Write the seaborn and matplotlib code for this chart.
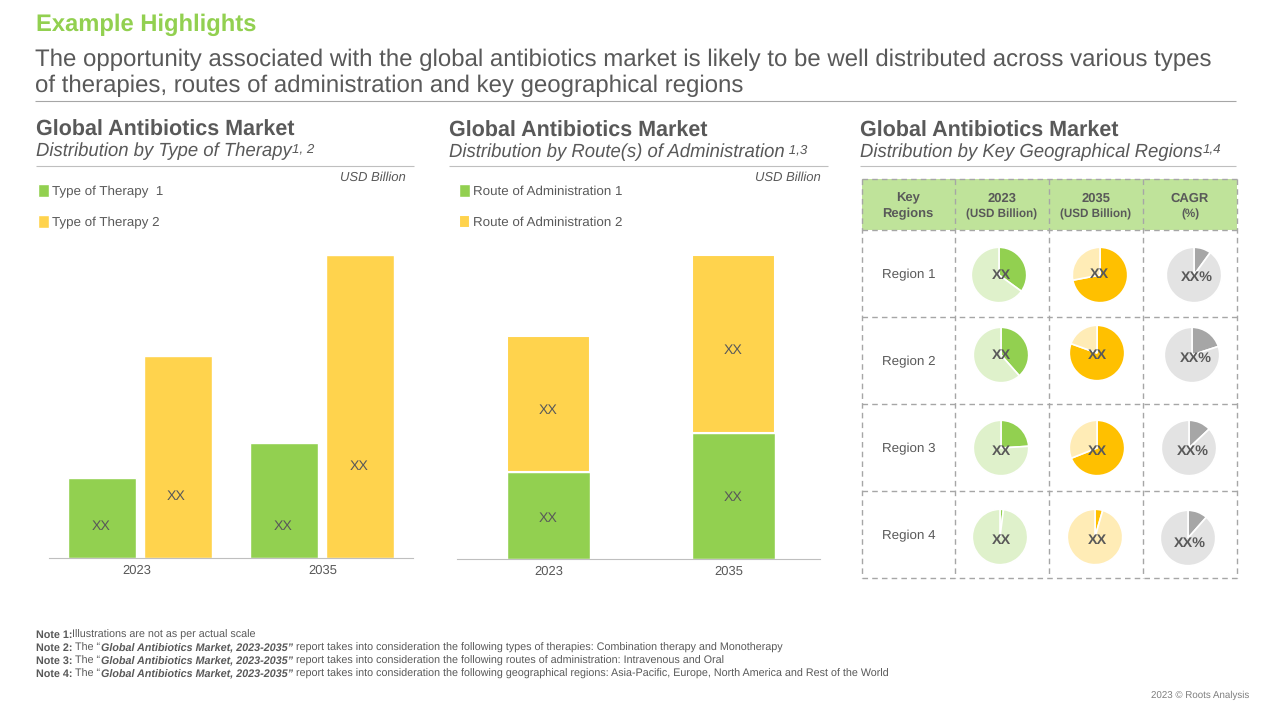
import pandas as pd
import matplotlib
matplotlib.use("Agg")
import matplotlib.pyplot as plt
from matplotlib.patches import Rectangle
import seaborn as sns

W, H = 1280, 720
GREEN = "#92D050"
YELLOW = "#FFD34D"
GREY = "#595959"
RULE = "#BFBFBF"

# Values (no scale given, so arbitrary units)
years = ["2023", "2035"]
therapy_names = ["Type of Therapy  1", "Type of Therapy 2"]
therapy_1 = [80, 115]
therapy_2 = [201, 302]
route_names = ["Route of Administration 1", "Route of Administration 2"]
route_1 = [87, 126]
route_2 = [135, 177]

regions = ["Region 1", "Region 2", "Region 3", "Region 4"]
share_2023 = [35, 38.5, 24, 2]
share_2035 = [72, 80.5, 69, 4.5]
share_cagr = [10, 20, 13, 11.5]

sns.set_theme(style="white")
plt.rcParams["font.family"] = ["Liberation Sans", "DejaVu Sans"]
plt.rcParams["text.hinting"] = "no_hinting"

fig = plt.figure(figsize=(W / 100, H / 100), dpi=100, facecolor="white")


def px_axes(x0, y0, x1, y1):
    return fig.add_axes([x0 / W, 1 - y1 / H, (x1 - x0) / W, (y1 - y0) / H])


def style_bars(ax, xlim, ymax, tick_pos):
    ax.set_xlim(*xlim)
    ax.set_ylim(0, ymax)
    ax.set_xlabel("")
    ax.set_ylabel("")
    ax.set_yticks([])
    ax.set_xticks(tick_pos, years)
    sns.despine(ax=ax, left=True)
    ax.spines["bottom"].set_color(RULE)
    ax.spines["bottom"].set_linewidth(0.8)
    ax.tick_params(axis="x", length=0, pad=5, labelsize=9.4, labelcolor=GREY)
    ax.patch.set_alpha(0)


def place_legend(ax, handles, labels, x, y):
    ax.legend(handles, labels, loc="upper left", bbox_to_anchor=(x / W, 1 - y / H),
              bbox_transform=fig.transFigure, frameon=False, fontsize=9.6, labelcolor=GREY,
              handlelength=0.85, handleheight=1.1, handletextpad=0.2, labelspacing=1.32,
              borderpad=0, borderaxespad=0)


# Left chart, grouped bars
df_type = pd.DataFrame({
    "year": years * 2,
    "kind": [therapy_names[0]] * 2 + [therapy_names[1]] * 2,
    "value": therapy_1 + therapy_2,
})
ax1 = px_axes(49, 256, 413, 558)
sns.barplot(data=df_type, x="year", y="value", hue="kind", palette=[GREEN, YELLOW],
            width=0.83, gap=0.095, saturation=1, ax=ax1)
style_bars(ax1, (-0.5, 1.5), 301, [-0.02, 1.005])
h1, l1 = ax1.get_legend_handles_labels()
place_legend(ax1, h1, l1, 38, 184)

# Middle chart, stacked bars
df_route = pd.DataFrame({"year": years, "r1": route_1, "r2": route_2})
ax2 = px_axes(457, 256, 820, 559)
sns.barplot(data=df_route, x="year", y="r1", color=GREEN, width=0.445, saturation=1,
            label=route_names[0], ax=ax2)
sns.barplot(data=df_route, x="year", y="r2", bottom=route_1, color=YELLOW, width=0.445,
            saturation=1, label=route_names[1], edgecolor="white", linewidth=1.5, ax=ax2)
style_bars(ax2, (-0.495, 1.468), 302, [0, 0.973])
h2, l2 = ax2.get_legend_handles_labels()
place_legend(ax2, h2, l2, 459, 184)

# Overlay in pixel coordinates for all the slide text and rules
ov = fig.add_axes([0, 0, 1, 1])
ov.set_xlim(0, W)
ov.set_ylim(H, 0)
ov.axis("off")
ov.set_zorder(10)


def txt(x, y, s, size, color=GREY, ha="center", va="center", **kw):
    return ov.text(x, y + 1.5, s, fontsize=size, color=color, ha=ha, va=va, **kw)


def chain(x, y, parts, size, color=GREY):
    # consecutive runs of text on one baseline, each with its own weight/style
    r = fig.canvas.get_renderer()
    for s, kw in parts:
        t = ov.text(x, y, s, fontsize=size, color=color, ha="left", va="baseline", **kw)
        x = ov.transData.inverted().transform(t.get_window_extent(r).corners()[2])[0]


def rule(x0, x1, y, color=RULE, lw=0.8, ls="-"):
    ov.plot([x0, x1], [y, y], color=color, lw=lw, ls=ls, solid_capstyle="butt")


txt(36, 23, "Example Highlights", 17.15, color=GREEN, ha="left", fontweight="bold")
txt(35, 58, "The opportunity associated with the global antibiotics market is likely to be well "
    "distributed across various types", 17.25, ha="left")
txt(35, 84, "of therapies, routes of administration and key geographical regions", 17.25, ha="left")
rule(35, 1236, 101, color="#A6A6A6")

heads = [(36, 129, 150, "Distribution by Type of Therapy", "1, 2", 36, 414),
         (449, 130, 151, "Distribution by Route(s) of Administration", " 1,3", 449, 828),
         (860, 130, 151, "Distribution by Key Geographical Regions", "1,4", 860, 1236)]
for x, y1, y2, sub, sup, r0, r1 in heads:
    txt(x, y1, "Global Antibiotics Market", 15.5, ha="left", fontweight="bold")
    r = fig.canvas.get_renderer()
    t = txt(x, y2, sub, 13.35, ha="left", style="italic")
    end = ov.transData.inverted().transform(t.get_window_extent(r).corners()[2])[0]
    txt(end, y2 - 3, sup, 9.6, ha="left", style="italic")
    rule(r0, r1, 165.5)

txt(406, 176, "USD Billion", 9.4, ha="right", style="italic")
txt(821, 176, "USD Billion", 9.4, ha="right", style="italic")

for x, y in [(101, 525), (176, 495), (283, 525), (359, 465),
             (548, 517), (548, 409), (733, 496), (733, 349)]:
    txt(x, y, "XX", 10.2)

# Table on the right
col_x = [861.5, 955, 1049, 1143, 1237]
row_y = [179, 230, 317, 404, 491, 578]
ov.add_patch(Rectangle((col_x[0], row_y[0]), col_x[-1] - col_x[0], row_y[1] - row_y[0],
                       facecolor="#BFE39A", edgecolor="none", zorder=0))
for x in col_x:
    ov.plot([x, x], [row_y[0], row_y[-1]], color="#A6A6A6", lw=1.0, ls=(0, (4, 3)))
for y in row_y:
    rule(col_x[0], col_x[-1], y, color="#A6A6A6", lw=1.0, ls=(0, (4, 3)))

txt(908, 196, "Key", 9.4, fontweight="bold")
txt(908, 212, "Regions", 9.4, fontweight="bold")
txt(1002, 197, "2023", 9.4, fontweight="bold")
txt(1002, 212.5, "(USD Billion)", 8.4, fontweight="bold")
txt(1096, 197, "2035", 9.4, fontweight="bold")
txt(1096, 212.5, "(USD Billion)", 8.4, fontweight="bold")
txt(1190, 197, "CAGR", 9.4, fontweight="bold")
txt(1190, 212.5, "(%)", 8.4, fontweight="bold")

for name, y in zip(regions, [273, 360, 447, 534]):
    txt(908.5, y, name, 9.6)

pie_r = 27.7
pie_xy = [[(999, 275), (1100, 275), (1194, 275)],
          [(1001, 355), (1097, 353), (1192, 355)],
          [(1001, 448), (1097, 448), (1189, 448)],
          [(1000, 537), (1095, 537), (1188, 538)]]
label_xy = [[(1001, 274), (1099, 273), (1197, 276)],
            [(1001, 354), (1097, 354), (1196, 357)],
            [(1001, 450), (1097, 450), (1193, 450)],
            [(1001, 539), (1097, 539), (1190, 542)]]
pie_cols = [(GREEN, "#DFF1CB"), ("#FFC000", "#FFECB6"), ("#A6A6A6", "#E3E3E3")]
pie_vals = [share_2023, share_2035, share_cagr]

for i in range(len(regions)):
    for j in range(3):
        cx, cy = pie_xy[i][j]
        pa = px_axes(cx - pie_r, cy - pie_r, cx + pie_r, cy + pie_r)
        v = pie_vals[j][i]
        pa.pie([v, 100 - v], colors=pie_cols[j], startangle=90, counterclock=False, radius=1,
               wedgeprops={"edgecolor": "white", "linewidth": 1.2})
        pa.set_xlim(-1, 1)
        pa.set_ylim(-1, 1)
        lx, ly = label_xy[i][j]
        txt(lx, ly, "XX%" if j == 2 else "XX", 10.4, fontweight="bold")

# Notes and footer
report = [("The \u201c", {}), ("Global Antibiotics Market, 2023-2035\u201d", {"style": "italic", "fontweight": "bold"})]
chain(36, 638, [("Note 1:", {"fontweight": "bold"}),
                ("Illustrations are not as per actual scale", {})], 7.77)
chain(36, 651, [("Note 2: ", {"fontweight": "bold"})] + report + [
    (" report takes into consideration the following types of therapies: Combination therapy and Monotherapy", {})], 7.77)
chain(36, 664, [("Note 3: ", {"fontweight": "bold"})] + report + [
    (" report takes into consideration the following routes of administration: Intravenous and Oral", {})], 7.77)
chain(36, 677, [("Note 4: ", {"fontweight": "bold"})] + report + [
    (" report takes into consideration the following geographical regions: Asia-Pacific, Europe, North America and Rest of the World", {})], 7.77)
txt(1249, 694, "2023 \u00a9 Roots Analysis", 7, color="#7F7F7F", ha="right")

fig.savefig("out.png", dpi=100)
